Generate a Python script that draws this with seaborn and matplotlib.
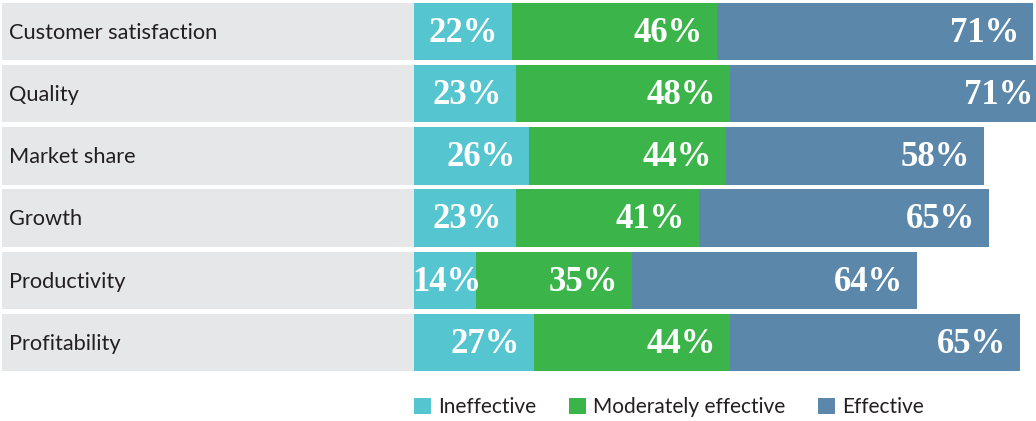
import matplotlib
matplotlib.use("Agg")
import matplotlib.pyplot as plt
from matplotlib.patches import Patch
import numpy as np
import seaborn as sns

categories = ["Customer satisfaction", "Quality", "Market share", "Growth",
              "Productivity", "Profitability"]
ineffective = [22, 23, 26, 23, 14, 27]
moderately = [46, 48, 44, 41, 35, 44]
effective = [71, 71, 58, 65, 64, 65]
series_names = ["Ineffective", "Moderately effective", "Effective"]
colors = ["#55c5d0", "#3bb54a", "#5b87aa"]
gray = "#e6e7e9"

sns.set_theme(style="white")
plt.rcParams["font.family"] = ["Lato", "DejaVu Sans"]

W, H, DPI = 1036, 421, 100
fig = plt.figure(figsize=(W / DPI, H / DPI), dpi=DPI)

# layout in pixels
x0_px = 413.5          # pixel where value 0 sits
px_per_unit = 4.46
pitch = 62.2
top_center = 31.5
ax_top = top_center - 0.5 * pitch
ax_bot = top_center + 5.5 * pitch
ax = fig.add_axes([0, 1 - ax_bot / H, 1, (ax_bot - ax_top) / H])

xmin = -x0_px / px_per_unit
xmax = (W - x0_px) / px_per_unit
gray_left = (2 - x0_px) / px_per_unit

vals = np.array([ineffective, moderately, effective], dtype=float)
cum = np.cumsum(vals, axis=0)
starts = cum - vals
bar_h = 57.5 / pitch

# stacked bars drawn as overlapping cumulative bars (largest first)
for i in [2, 1, 0]:
    sns.barplot(x=cum[i], y=categories, orient="h", color=colors[i],
                saturation=1, width=bar_h, linewidth=0, ax=ax,
                zorder=2, legend=False)

# gray label band
ypos = np.arange(len(categories))
ax.barh(ypos, width=-gray_left, left=gray_left, height=bar_h, color=gray,
        linewidth=0, zorder=4)

pad = 14 / px_per_unit
for r, cat in enumerate(categories):
    ax.text((9 - x0_px) / px_per_unit, r + 0.02, cat, ha="left", va="center",
            fontsize=15.7, color="#231f20", zorder=5)
    for i in range(3):
        seg_px = vals[i][r] * px_per_unit
        if seg_px < 80:
            x, ha = starts[i][r] - 0.3, "left"
        else:
            x, ha = cum[i][r] - pad, "right"
        ax.text(x, r + 0.03, f"{int(vals[i][r])}%", ha=ha,
                va="center", fontsize=25, color="white",
                family=["Liberation Serif", "DejaVu Serif"],
                fontweight="bold", zorder=3)

ax.set_xlim(xmin, xmax)
ax.set_ylim(5.5, -0.5)
ax.set_axis_off()
if ax.get_legend() is not None:
    ax.get_legend().remove()

handles = [Patch(facecolor=c, edgecolor="none") for c in colors]
fs = 15.0
fs_px = fs * DPI / 72
fig.legend(handles, series_names, loc="center left",
           bbox_to_anchor=(414 / W, 1 - 407 / H), ncol=3, frameon=False,
           fontsize=fs, handlelength=17 / fs_px, handleheight=17 / fs_px,
           handletextpad=7 / fs_px, columnspacing=33 / fs_px,
           borderpad=0, borderaxespad=0, labelcolor="#231f20")

fig.savefig("out.png", dpi=DPI)
